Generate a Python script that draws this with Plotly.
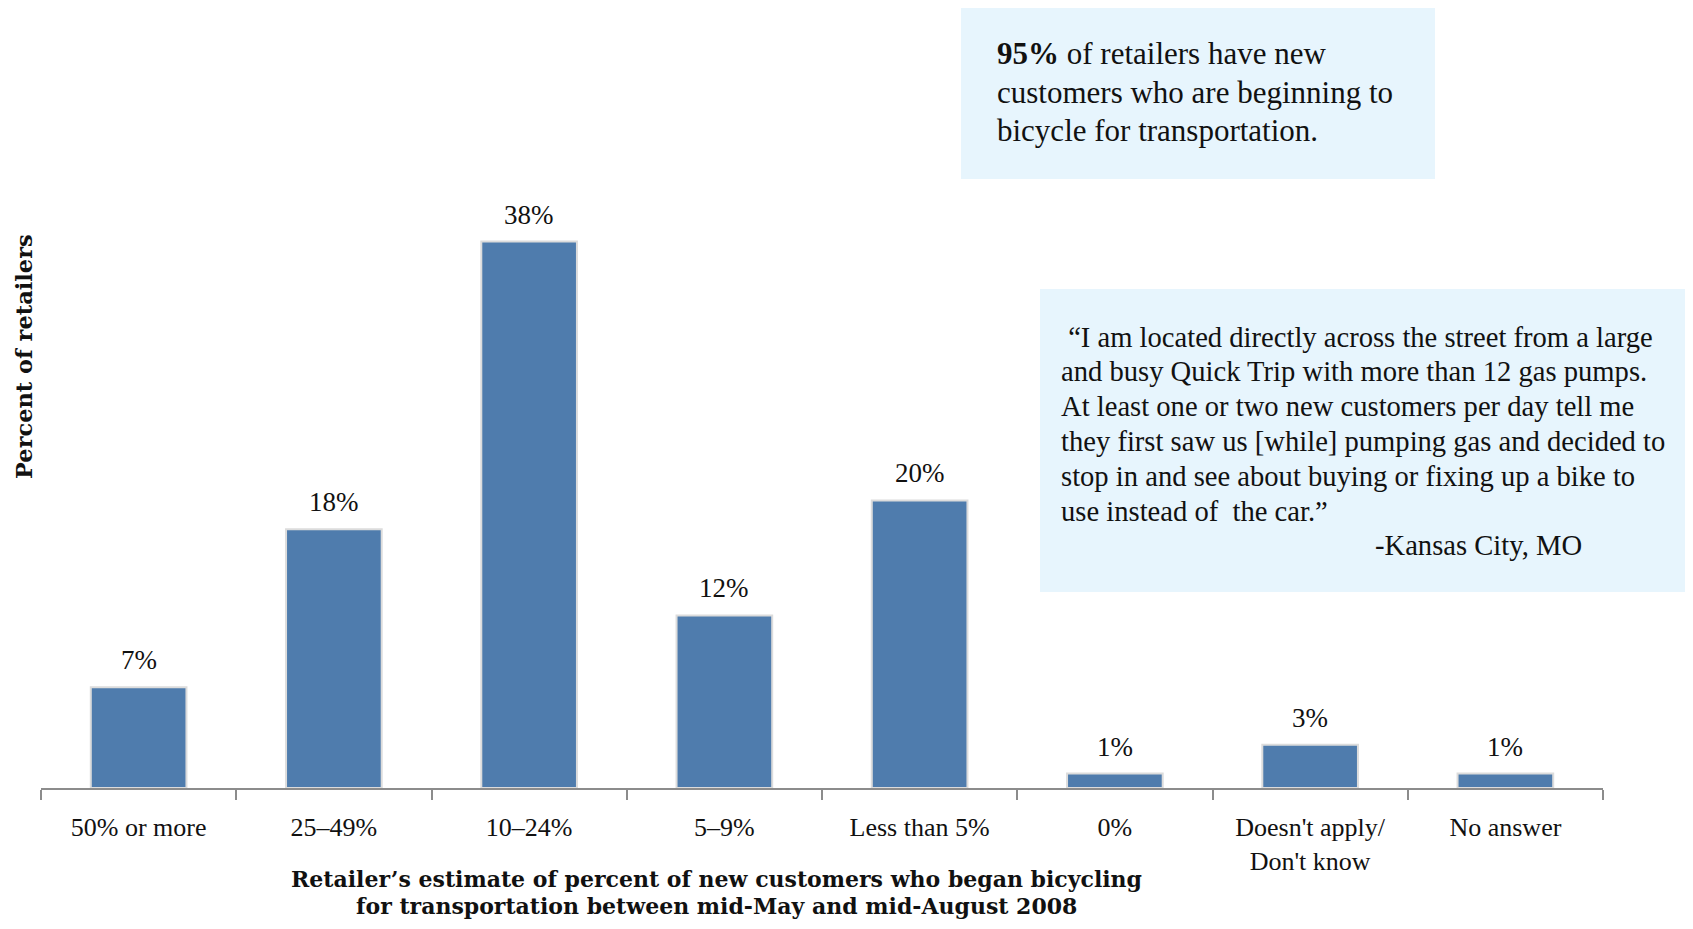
import plotly.graph_objects as go

categories = ["50% or more", "25–49%", "10–24%", "5–9%", "Less than 5%", "0%",
              "Doesn't apply/<br>Don't know", "No answer"]
values = [7, 18, 38, 12, 20, 1, 3, 1]
labels = [f"{v}%" for v in values]

box1_lines = ["<b>95%</b> of retailers have new",
              "customers who are beginning to",
              "bicycle for transportation."]
box2_lines = [" “I am located directly across the street from a large",
              "and busy Quick Trip with more than 12 gas pumps.",
              "At least one or two new customers per day tell me",
              "they first saw us [while] pumping gas and decided to",
              "stop in and see about buying or fixing up a bike to",
              "use instead of  the car.”"]
box2_sign = "-Kansas City, MO"

# the page has an 8px body margin; figure sized to fit inside the window
OFF = 8
W, H = 1693 - 2 * OFF, 929 - 2 * OFF
# plot area in page pixels
PX0, PX1, PYB, PYT = 41, 1603, 788, 69
X0, X1, YB, YT = PX0 - OFF, PX1 - OFF, PYB - OFF, PYT - OFF

def px(x):  # page pixel -> paper
    return (x - OFF - X0) / (X1 - X0)
def py(y):
    return (YB - (y - OFF)) / (YB - YT)

SERIF = "Liberation Serif"
BOLD = "DejaVu Serif"

fig = go.Figure(go.Bar(
    x=categories, y=values,
    marker=dict(color="#4F7CAD", line=dict(color="#dcdcdc", width=2)),
))

fig.update_layout(
    width=W, height=H,
    margin=dict(l=X0, r=W - X1, t=YT, b=H - YB),
    paper_bgcolor="white", plot_bgcolor="white",
    bargap=0.51, showlegend=False,
    font=dict(family=SERIF, color="#111"),
)
fig.update_xaxes(
    showline=True, linecolor="#8c8c8c", linewidth=2,
    ticks="outside", tickson="boundaries", ticklen=10, tickcolor="#8c8c8c", tickwidth=2,
    tickfont=dict(family=SERIF, size=26, color="#111"),
    ticklabelstandoff=15,
    showgrid=False,
)
fig.update_yaxes(range=[0, 50], visible=False, showgrid=False)

shapes = [
    dict(type="rect", xref="paper", yref="paper",
         x0=px(961), x1=px(1435), y0=py(179), y1=py(8),
         fillcolor="#E7F5FD", line=dict(width=0), layer="below"),
    dict(type="rect", xref="paper", yref="paper",
         x0=px(1040), x1=px(1691), y0=py(592), y1=py(289),
         fillcolor="#E7F5FD", line=dict(width=0), layer="below"),
]
fig.update_layout(shapes=shapes)

ann = []
for c, v, t in zip(categories, values, labels):
    ann.append(dict(text=t, x=c, y=v, xref="x", yref="y", xanchor="center", yanchor="bottom",
                    yshift=10, showarrow=False,
                    font=dict(family=SERIF, size=27, color="#111")))
for i, t in enumerate(box1_lines):
    ann.append(dict(text=t, xref="paper", yref="paper", x=px(995), y=py(54 + i * 38),
                    xanchor="left", yanchor="middle", showarrow=False,
                    font=dict(family=SERIF, size=31, color="#111")))
for i, t in enumerate(box2_lines):
    ann.append(dict(text=t, xref="paper", yref="paper", x=px(1059), y=py(337 + i * 34.8),
                    xanchor="left", yanchor="middle", showarrow=False,
                    font=dict(family=SERIF, size=28.6, color="#111")))
ann.append(dict(text=box2_sign, xref="paper", yref="paper", x=px(1584), y=py(337 + 6 * 34.8),
                xanchor="right", yanchor="middle", showarrow=False,
                font=dict(family=SERIF, size=28.6, color="#111")))

ann.append(dict(text="<b>Retailer’s estimate of percent of new customers who began bicycling</b>",
                xref="paper", yref="paper", x=px(716), y=py(879), xanchor="center", yanchor="middle",
                showarrow=False, font=dict(family=BOLD, size=22, color="#111")))
ann.append(dict(text="<b>for transportation between mid-May and mid-August 2008</b>",
                xref="paper", yref="paper", x=px(716), y=py(906), xanchor="center", yanchor="middle",
                showarrow=False, font=dict(family=BOLD, size=22, color="#111")))
ann.append(dict(text="<b>Percent of retailers</b>", textangle=-90,
                xref="paper", yref="paper", x=px(24), y=py(357), xanchor="center", yanchor="middle",
                showarrow=False, font=dict(family=BOLD, size=22.5, color="#111")))
fig.update_layout(annotations=ann)

fig.write_html("out.html")
